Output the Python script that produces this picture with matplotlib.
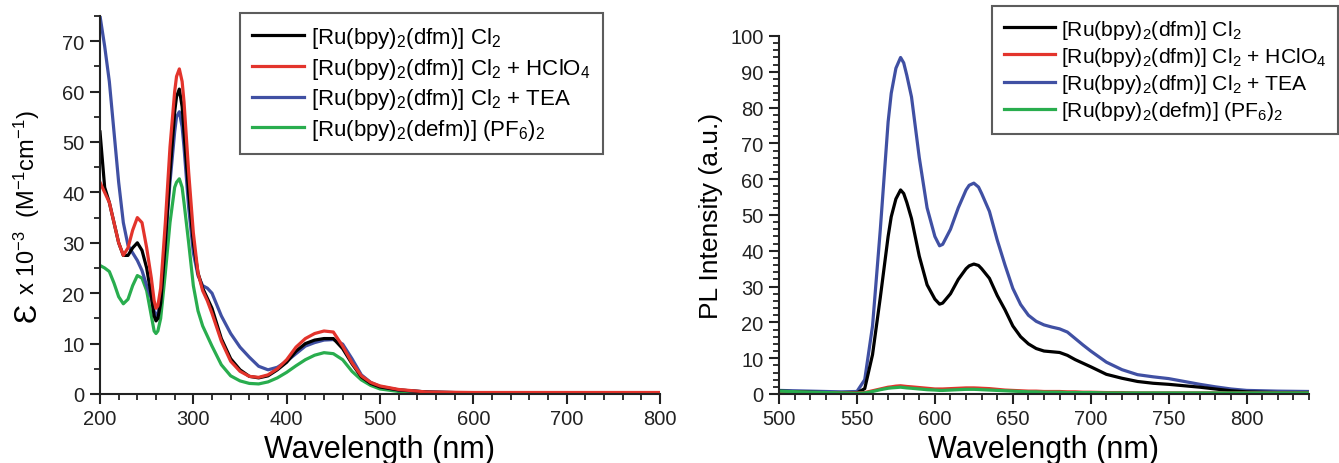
import matplotlib
matplotlib.use("Agg")
import matplotlib.pyplot as plt
from matplotlib.ticker import MultipleLocator

plt.rcParams['font.family'] = ['Liberation Sans', 'DejaVu Sans']
plt.rcParams['mathtext.default'] = 'regular'

# -------------------------
# Absorption spectra (epsilon x 10^-3)
# -------------------------
wl_abs = [200, 205, 210, 215, 220, 225, 230, 235, 240, 245, 250, 255, 258, 260,
          262, 265, 270, 275, 280, 282, 285, 288, 290, 295, 300, 305, 310, 315,
          320, 330, 340, 350, 360, 370, 380, 390, 400, 410, 420, 430, 440, 450,
          460, 470, 480, 490, 500, 520, 550, 600, 700, 800]
abs_cl2 = [52, 41, 38, 34, 30, 27.5, 27.5, 29, 30, 28.5, 25, 19.5, 15.5, 14.5,
           15, 18, 30, 44, 56, 59, 60.5, 57, 52, 40, 30, 24, 21, 19,
           17, 11, 7, 4.8, 3.5, 3.2, 3.6, 4.8, 6.3, 8.5, 10, 10.7, 11, 11,
           9, 6, 3.4, 2.1, 1.4, 0.8, 0.4, 0.2, 0.1, 0.1]
abs_hclo4 = [42, 40, 38, 34, 30, 27.5, 29, 32.5, 35, 34, 29, 23, 18.5, 17,
             17.5, 21, 34, 49, 60, 63, 64.5, 62, 58, 44, 32, 24, 20.5, 18.5,
             16, 10.5, 6.5, 4.5, 3.5, 3.3, 3.8, 5, 6.8, 9.3, 11, 12, 12.5, 12.3,
             9.5, 6.2, 3.6, 2.3, 1.6, 0.9, 0.4, 0.3, 0.3, 0.3]
abs_tea = [75, 69, 62, 52, 42, 34, 29.5, 28, 26.5, 24.5, 21.5, 19, 16.5, 15.5,
           16, 19, 30, 42, 52, 55, 56, 53, 49, 37, 28, 23.5, 21.5, 21,
           20, 15.5, 12, 9.3, 7.3, 5.5, 4.8, 5.3, 6.5, 8, 9.5, 10.2, 10.7, 10.8,
           9.9, 7, 3.8, 2.3, 1.5, 0.8, 0.4, 0.2, 0.2, 0.2]
abs_pf6 = [25.5, 25, 24.3, 22, 19.3, 17.9, 18.8, 21.5, 23.5, 23, 20.5, 15.5, 12.5, 12,
           12.5, 15, 24, 34, 41, 42, 42.7, 41, 38, 30, 21.5, 16.5, 13.5, 11.5,
           9.5, 5.8, 3.6, 2.6, 2.1, 2, 2.4, 3.2, 4.3, 5.6, 6.8, 7.7, 8.2, 8,
           6.8, 4.5, 2.8, 1.7, 1.0, 0.5, 0.2, 0.1, 0.05, 0.05]

# -------------------------
# Emission spectra (PL intensity)
# -------------------------
wl_pl = [500, 520, 540, 550, 555, 560, 565, 570, 572, 575, 578, 580, 582, 585,
         590, 595, 600, 603, 605, 610, 615, 620, 622, 625, 628, 630, 635, 640,
         645, 650, 655, 660, 665, 670, 675, 680, 685, 690, 695, 700, 710, 720,
         730, 740, 750, 760, 770, 780, 790, 800, 820, 840]
pl_cl2 = [0.8, 0.5, 0.3, 0.3, 1.5, 11, 27, 44, 49.5, 54.5, 57, 56, 53.5, 49,
          38.5, 30.5, 26.5, 25.1, 25.4, 28, 32, 35, 35.8, 36.3, 35.9, 35, 32.3, 27.5,
          23.5, 19, 16, 14, 12.7, 12, 11.8, 11.6, 10.8, 9.6, 8.6, 7.6, 5.5, 4.4,
          3.5, 3.0, 2.7, 2.3, 1.9, 1.4, 0.9, 0.6, 0.4, 0.4]
pl_hclo4 = [0.6, 0.4, 0.3, 0.3, 0.4, 0.9, 1.4, 1.9, 2.0, 2.2, 2.3, 2.2, 2.1, 2.0,
            1.8, 1.6, 1.4, 1.4, 1.4, 1.5, 1.6, 1.7, 1.7, 1.7, 1.65, 1.6, 1.5, 1.3,
            1.1, 1.0, 0.9, 0.8, 0.8, 0.7, 0.7, 0.7, 0.6, 0.6, 0.5, 0.5, 0.4, 0.4,
            0.3, 0.3, 0.3, 0.3, 0.3, 0.3, 0.3, 0.3, 0.3, 0.3]
pl_tea = [1.0, 0.8, 0.6, 0.7, 4, 19, 46, 76, 84, 91, 94, 92.5, 89, 83,
          66, 52, 44, 41.4, 41.8, 46, 52, 57, 58.3, 58.9, 57.8, 56, 51, 43,
          36, 29.5, 25, 22, 20.3, 19.3, 18.7, 18.2, 17.3, 15.5, 13.7, 12, 8.9, 6.8,
          5.4, 4.8, 4.3, 3.5, 2.7, 2.0, 1.4, 1.0, 0.8, 0.7]
pl_pf6 = [0.8, 0.5, 0.3, 0.2, 0.3, 0.7, 1.2, 1.6, 1.7, 1.8, 1.9, 1.8, 1.7, 1.6,
          1.4, 1.2, 1.1, 1.0, 1.0, 1.1, 1.2, 1.3, 1.3, 1.3, 1.25, 1.2, 1.1, 1.0,
          0.9, 0.8, 0.7, 0.6, 0.6, 0.5, 0.5, 0.5, 0.4, 0.4, 0.4, 0.4, 0.3, 0.3,
          0.3, 0.3, 0.3, 0.3, 0.3, 0.3, 0.3, 0.3, 0.3, 0.3]

labels = [r'[Ru(bpy)$_2$(dfm)] Cl$_2$',
          r'[Ru(bpy)$_2$(dfm)] Cl$_2$ + HClO$_4$',
          r'[Ru(bpy)$_2$(dfm)] Cl$_2$ + TEA',
          r'[Ru(bpy)$_2$(defm)] (PF$_6$)$_2$']
colors = ['#000000', '#e3342c', '#4050a3', '#29ad4e']

lw = 2.3

fig = plt.figure(figsize=(13.39, 4.64), dpi=100)
ax1 = fig.add_axes([100 / 1339, 1 - 395 / 464, 560 / 1339, 378 / 464])
ax2 = fig.add_axes([779 / 1339, 1 - 395 / 464, 530 / 1339, 358 / 464])
for ax in (ax1, ax2):
    ax.patch.set_alpha(0)
    for s in ('top', 'right'):
        ax.spines[s].set_visible(False)
    for s in ('left', 'bottom'):
        ax.spines[s].set_linewidth(1.5)
        ax.spines[s].set_color('#222222')
    ax.tick_params(which='major', direction='out', length=7, width=1.5,
                   labelsize=14.5, pad=4, colors='#222222')
    ax.tick_params(which='minor', direction='out', length=4, width=1.3,
                   colors='#222222')

# -------------------------
# Left: absorption
# -------------------------
abs_series = [abs_cl2, abs_hclo4, abs_tea, abs_pf6]
lines1 = {}
for i in [3, 2, 0, 1]:
    lines1[i], = ax1.plot(wl_abs, abs_series[i], color=colors[i], lw=lw,
                          solid_joinstyle='round', label=labels[i])
ax1.set_xlim(200, 800)
ax1.set_ylim(0, 75)
ax1.xaxis.set_major_locator(MultipleLocator(100))
ax1.xaxis.set_minor_locator(MultipleLocator(20))
ax1.yaxis.set_minor_locator(MultipleLocator(5))
ax1.set_yticks(range(0, 71, 10))
ax1.set_xlabel('Wavelength (nm)', fontsize=22, labelpad=4)
ax1.text(-0.130, 0.22, '\u0190', transform=ax1.transAxes, rotation=90,
         ha='center', va='center', fontsize=23)
ax1.text(-0.130, 0.265, r'x 10$^{-3}$  (M$^{-1}$cm$^{-1}$)', transform=ax1.transAxes,
         rotation=90, ha='center', va='bottom', fontsize=17)
leg1 = ax1.legend([lines1[i] for i in range(4)], labels, loc='upper left',
                  bbox_to_anchor=(240 / 1339, 1 - 14 / 464),
                  bbox_transform=fig.transFigure, fontsize=16, frameon=True,
                  fancybox=False, handlelength=2.35, handletextpad=0.3,
                  borderpad=0.55, labelspacing=0.25, borderaxespad=0)
leg1.get_frame().set_edgecolor('#333333')
leg1.get_frame().set_linewidth(1.5)

# -------------------------
# Right: emission
# -------------------------
pl_series = [pl_cl2, pl_hclo4, pl_tea, pl_pf6]
lines2 = {}
for i in [2, 0, 1, 3]:
    lines2[i], = ax2.plot(wl_pl, pl_series[i], color=colors[i], lw=lw,
                          solid_joinstyle='round', label=labels[i])
ax2.set_xlim(500, 840)
ax2.set_ylim(0, 100)
ax2.xaxis.set_minor_locator(MultipleLocator(10))
ax2.set_xticks(range(500, 801, 50))
ax2.yaxis.set_major_locator(MultipleLocator(10))
ax2.yaxis.set_minor_locator(MultipleLocator(2))
ax2.set_xlabel('Wavelength (nm)', fontsize=22, labelpad=4)
ax2.set_ylabel('PL Intensity (a.u.)', fontsize=19, labelpad=5)
leg2 = ax2.legend([lines2[i] for i in range(4)], labels, loc='upper left',
                  bbox_to_anchor=(992 / 1339, 1 - 7 / 464),
                  bbox_transform=fig.transFigure, fontsize=15.2, frameon=True,
                  fancybox=False, handlelength=2.45, handletextpad=0.25,
                  borderpad=0.55, labelspacing=0.2, borderaxespad=0)
leg2.get_frame().set_edgecolor('#333333')
leg2.get_frame().set_linewidth(1.5)

fig.savefig('out.png', dpi=100)
